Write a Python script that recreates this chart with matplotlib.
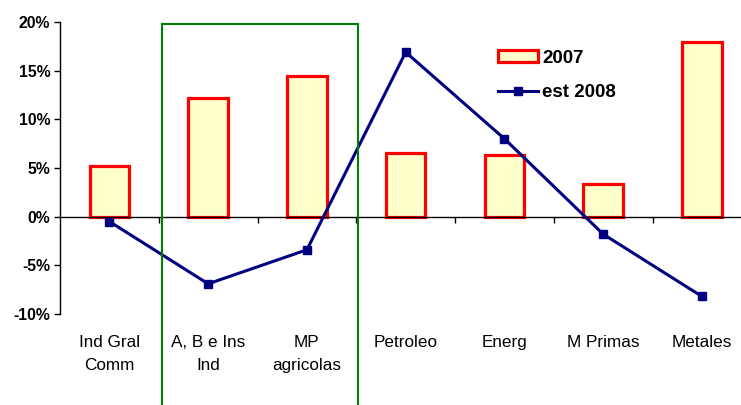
import matplotlib
matplotlib.use("Agg")
import matplotlib.pyplot as plt
import matplotlib.transforms as mtransforms
from matplotlib.patches import Rectangle
from matplotlib.ticker import FuncFormatter, FixedLocator

categories = ["Ind Gral\nComm", "A, B e Ins\nInd", "MP\nagricolas", "Petroleo",
              "Energ", "M Primas", "Metales"]
values_2007 = [5.2, 12.2, 14.5, 6.5, 6.3, 3.4, 17.9]
values_2008 = [-0.5, -6.9, -3.4, 16.9, 8.0, -1.8, -8.2]
yticks = [-10, -5, 0, 5, 10, 15, 20]
highlight_span = (0.53, 2.52)

plt.rcParams["font.family"] = ["Liberation Sans", "DejaVu Sans"]

fig = plt.figure(figsize=(7.41, 4.05), dpi=100)
ax = fig.add_axes([0.081, 0.2247, 0.933, 0.721])

x = list(range(len(categories)))
bars = ax.bar(x, values_2007, width=0.4, color="#FFFFCC", edgecolor="#FF0000",
              linewidth=2.3, label="2007", zorder=2)
line, = ax.plot(x, values_2008, color="#000080", linewidth=2.2, marker="s",
                markersize=6, label="est 2008", zorder=3)

ax.set_xlim(-0.5, len(categories) - 0.5)
ax.set_ylim(-10, 20)

# axes styling
for s in ("top", "right"):
    ax.spines[s].set_visible(False)
ax.spines["bottom"].set_position(("data", 0))
ax.spines["bottom"].set_linewidth(1.0)
ax.spines["left"].set_linewidth(1.0)

ax.yaxis.set_major_locator(FixedLocator(yticks))
ax.yaxis.set_major_formatter(FuncFormatter(lambda v, p: f"{v:.0f}%"))
ax.tick_params(axis="y", length=4, width=1, direction="out", pad=3,
               labelsize=11.3)
for lbl in ax.get_yticklabels():
    lbl.set_fontweight("bold")

ax.xaxis.set_major_locator(FixedLocator([i + 0.5 for i in range(len(categories) - 1)]))
ax.tick_params(axis="x", length=4, width=1, direction="out", labelbottom=False)

# category labels below the plot area
trans = mtransforms.blended_transform_factory(ax.transData, ax.transAxes)
for xi, name in zip(x, categories):
    ax.text(xi, -0.072, name, transform=trans, ha="center", va="top",
            fontsize=12.3, linespacing=1.65, clip_on=False)

# highlight box around the agricultural / industrial groups
rect = Rectangle((highlight_span[0], -0.5), highlight_span[1] - highlight_span[0], 1.493,
                 transform=trans, fill=False, edgecolor="#008000", linewidth=1.5,
                 clip_on=False, zorder=4)
ax.add_patch(rect)

leg = ax.legend([bars, line], ["2007", "est 2008"], loc="upper left",
                bbox_to_anchor=(498 / 741, 1 - 50 / 405),
                bbox_transform=fig.transFigure, frameon=False,
                prop={"weight": "bold", "size": 13.5}, handlelength=2.15,
                handleheight=0.6, handletextpad=0.2, labelspacing=0.9,
                borderaxespad=0, borderpad=0)

fig.savefig("out.png", dpi=100)
